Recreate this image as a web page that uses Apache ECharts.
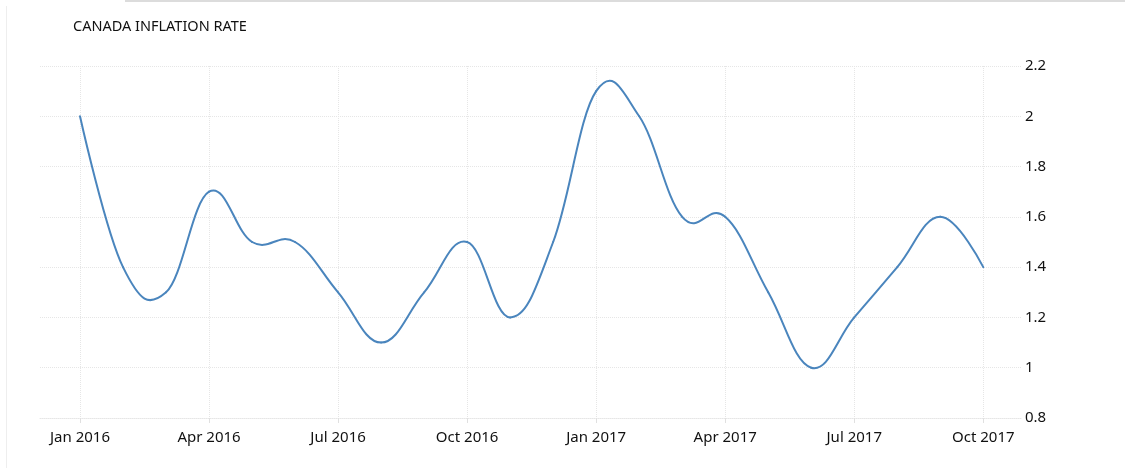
<!DOCTYPE html>
<html>
<head>
<meta charset="utf-8">
<script src="https://cdn.jsdelivr.net/npm/echarts@6/dist/echarts.min.js"></script>
<style>
html,body{margin:0;padding:0;background:#fff;}
#chart{width:1125px;height:468px;}
</style>
</head>
<body>
<div id="chart"></div>
<script>
var months = ['Jan 2016','Feb 2016','Mar 2016','Apr 2016','May 2016','Jun 2016','Jul 2016','Aug 2016','Sep 2016','Oct 2016','Nov 2016','Dec 2016',
              'Jan 2017','Feb 2017','Mar 2017','Apr 2017','May 2017','Jun 2017','Jul 2017','Aug 2017','Sep 2017','Oct 2017'];
var inflation = [2.0,1.4,1.3,1.7,1.5,1.5,1.3,1.1,1.3,1.5,1.2,1.5,2.1,2.0,1.6,1.6,1.3,1.0,1.2,1.4,1.6,1.4];
var xTickIndices = [0,3,6,9,12,15,18,21];
var yTicks = [0.8,1,1.2,1.4,1.6,1.8,2,2.2];

var chart = echarts.init(document.getElementById('chart'), null, {renderer:'canvas'});
var font = '"Noto Sans", sans-serif';
var lineColor = '#4a85bd';
var seriesData = inflation.map(function(v,i){return [i,v];});

// spline control points (smoothing 1.5, tangent through neighbours)
function ctrl(api, i){
  var p = api.coord([i, inflation[i]]);
  var hasPrev = i > 0, hasNext = i < inflation.length - 1;
  if (!hasPrev || !hasNext) return {left:p, right:p, p:p};
  var a = api.coord([i-1, inflation[i-1]]);
  var b = api.coord([i+1, inflation[i+1]]);
  var s = 1.5, d = s + 1;
  var lx = (s*p[0] + a[0]) / d, ly = (s*p[1] + a[1]) / d;
  var rx = (s*p[0] + b[0]) / d, ry = (s*p[1] + b[1]) / d;
  var corr = 0;
  if (rx !== lx) corr = (ry - ly) * (rx - p[0]) / (rx - lx) + p[1] - ry;
  ly += corr; ry += corr;
  return {left:[lx,ly], right:[rx,ry], p:p};
}

chart.setOption({
  animation:false,
  backgroundColor:'#fff',
  title:{text:'CANADA INFLATION RATE', left:68, top:14,
    textStyle:{fontFamily:font,fontSize:14.5,fontWeight:'normal',color:'#111'}},
  graphic:[
    {type:'line', shape:{x1:125,y1:1,x2:1125,y2:1}, style:{stroke:'#dcdcdc',lineWidth:2}, silent:true},
    {type:'line', shape:{x1:6.5,y1:6,x2:6.5,y2:468}, style:{stroke:'#eeeeee',lineWidth:1}, silent:true}
  ],
  grid:{left:40,right:103,top:66,bottom:50,containLabel:false},
  xAxis:{
    type:'value', min:-0.93, max:21.9,
    axisLine:{show:true,lineStyle:{color:'#e6e6e6',type:'dotted'}},
    axisTick:{show:true,length:5,customValues:xTickIndices,lineStyle:{color:'#e0e0e0'}},
    axisLabel:{customValues:xTickIndices,margin:12,fontFamily:font,fontSize:15,color:'#111',
      formatter:function(v){return months[Math.round(v)];}},
    splitLine:{show:true,lineStyle:{color:'#e6e6e6',type:'dotted'}}
  },
  yAxis:{
    type:'value', position:'right', min:0.8, max:2.2, interval:0.2,
    axisLine:{show:false}, axisTick:{show:false},
    axisLabel:{margin:3,fontFamily:font,fontSize:15,color:'#111',
      formatter:function(v){return String(Math.round(v*10)/10);}},
    splitLine:{show:true,lineStyle:{color:'#e6e6e6',type:'dotted'}}
  },
  series:[{
    type:'custom', data:seriesData, silent:true,
    encode:{x:0,y:1},
    renderItem:function(params, api){
      var i = Math.round(api.value(0));
      if (i >= inflation.length - 1) return null;
      var c0 = ctrl(api, i), c1 = ctrl(api, i+1);
      return {
        type:'bezierCurve',
        shape:{x1:c0.p[0],y1:c0.p[1],x2:c1.p[0],y2:c1.p[1],
               cpx1:c0.right[0],cpy1:c0.right[1],cpx2:c1.left[0],cpy2:c1.left[1]},
        style:{stroke:lineColor,lineWidth:2,fill:null,lineCap:'round'}
      };
    }
  }]
});
</script>
</body>
</html>
